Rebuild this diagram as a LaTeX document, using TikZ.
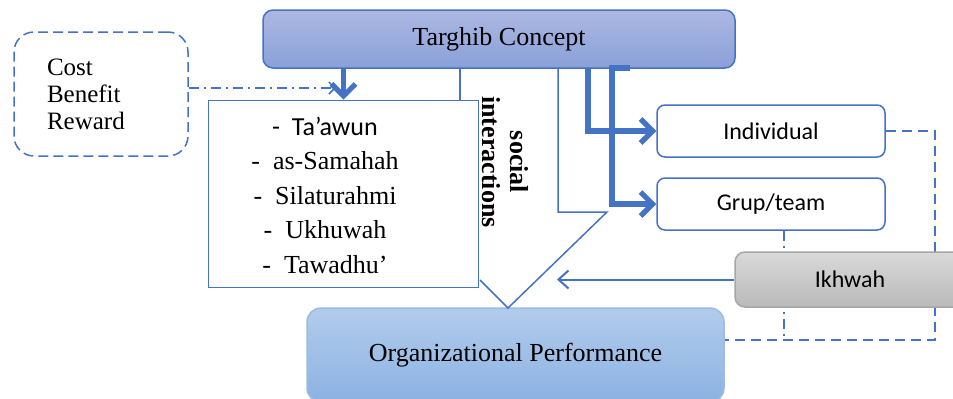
\documentclass[tikz,border=0pt]{standalone}
\usepackage{fontspec}
\setmainfont{Liberation Serif}
\newfontfamily\calibri{Carlito}
\usetikzlibrary{arrows.meta}
\definecolor{lineblue}{RGB}{68,114,196}
\definecolor{headtop}{RGB}{172,184,226}
\definecolor{headbot}{RGB}{138,160,216}
\definecolor{perftop}{RGB}{178,204,236}
\definecolor{perfbot}{RGB}{140,178,226}

\begin{document}
\begin{tikzpicture}[x=0.5pt, y=-0.5pt,
    head/.style={rectangle, rounded corners=5pt, draw=lineblue, line width=0.75pt, top color=headtop, bottom color=headbot, minimum width=236pt, minimum height=29pt, font=\fontsize{13}{15}\selectfont},
    perf/.style={rectangle, rounded corners=7pt, draw=perftop!80!lineblue, line width=0.75pt, top color=perftop, bottom color=perfbot, minimum width=208.5pt, minimum height=47pt, font=\fontsize{13}{15}\selectfont},
    cost/.style={rectangle, rounded corners=10pt, draw=lineblue, line width=0.75pt, dash pattern=on 5pt off 2.5pt, text width=54pt, inner xsep=16.5pt, minimum height=62pt, align=left, font=\fontsize{12.5}{13.5}\selectfont},
    list/.style={rectangle, draw=lineblue, line width=0.9pt, fill=white, minimum width=135pt, minimum height=93.5pt},
    items/.style={align=center, font=\fontsize{13}{17.25}\selectfont},
    group/.style={rectangle, rounded corners=4pt, draw=lineblue, line width=0.75pt, fill=white, minimum width=114pt, minimum height=26pt, font=\calibri\fontsize{12}{14}\selectfont},
    grey/.style={rectangle, rounded corners=5pt, draw=black!35, line width=0.75pt, top color=black!15, bottom color=black!27, minimum width=115pt, minimum height=27.5pt, font=\calibri\fontsize{12}{14}\selectfont},
    outline/.style={draw=lineblue, line width=0.75pt},
    big/.style={draw=lineblue, line width=2.6pt, -{Straight Barb[length=6pt, width=12pt]}},
    small/.style={draw=lineblue, line width=1pt, -{Straight Barb[length=5pt, width=9pt]}},
    dashline/.style={draw=lineblue, line width=0.75pt, dash pattern=on 5pt off 3pt},
    dashdot/.style={draw=lineblue, line width=0.75pt, dash pattern=on 5pt off 2.5pt on 1pt off 2.5pt}]
    \useasboundingbox (0,0) rectangle (953,398);
    \clip (0,0) rectangle (953,398);
    % nodes
    \node[head] (targhib) at (499,39) {Targhib Concept};
    \node[cost] (cost) at (101,94) {Cost\\Benefit\\Reward};
    \node[group] (indiv) at (771,131) {Individual};
    \node[group] (grup) at (771,204) {Grup/team};
    \node[perf] (perf) at (515.5,355) {Organizational Performance};
    % block arrow outline
    \draw[outline] (460,68) -- (460,100);
    \draw[outline] (480,280) -- (508,308) -- (607,212) -- (558,212) -- (558,68);
    \node[list] (list) at (343.5,194) {};
    \node[items] (values) at (325,195) {{\calibri -\ \ Ta’awun}\\-\ \ as-Samahah\\-\ \ Silaturahmi\\-\ \ Ukhuwah\\-\ \ Tawadhu’};
    \node[rotate=-90, align=center, font=\bfseries\fontsize{13}{14}\selectfont] (social) at (505,162) {social\\interactions};
    % edges
    \draw[dashdot, -{Straight Barb[length=3pt, width=6pt]}] ([yshift=3pt]cost.east) -- (336,88);
    \draw[big] (list.north |- targhib.south) -- (list.north);
    \draw[big] (588,68) |- (indiv.west);
    \draw[big] (630,68) -- (612,68) |- (grup.west);
    \draw[dashline] (indiv.east) -- (935,131) -- (935,340) -- (perf.east |- 935,340);
    \draw[dashdot] ([xshift=6.5pt]grup.south) -- (784,340);
    \node[grey] (ikhwah) at (850,279.5) {Ikhwah};
    \draw[small] (ikhwah.west) -- (557,279.5);
\end{tikzpicture}
\end{document}
